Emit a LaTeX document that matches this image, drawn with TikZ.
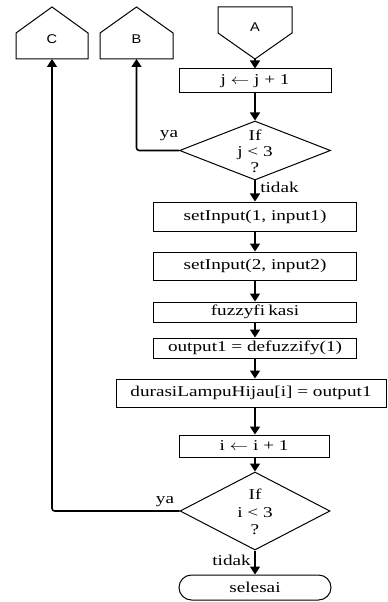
\documentclass[tikz,border=0pt]{standalone}
\usepackage{fontspec}
\usepackage{graphicx}
\setmainfont{Liberation Serif}
\newfontfamily\connfont{Liberation Sans}
\usetikzlibrary{shapes.geometric,shapes.misc,arrows.meta}
% widened serif text used throughout the chart
\newcommand{\stretchtext}[1]{\scalebox{1.28}[1]{#1}}
\begin{document}
\begin{tikzpicture}[x=0.75pt,y=-0.75pt,
  font=\fontsize{11.25}{13}\selectfont,
  box/.style={draw, line width=0.75pt, inner sep=0pt},
  decision/.style={draw, diamond, line width=0.75pt, inner sep=0pt},
  terminal/.style={draw, rounded rectangle, line width=0.75pt, inner sep=0pt},
  connector/.style={draw, line width=0.75pt, line join=miter},
  flow/.style={line width=1.2pt, -{Triangle[length=6pt,width=7.5pt]}},
  lbl/.style={inner sep=0pt}]
\useasboundingbox (0,0) rectangle (388,602);

% off-page connectors
\draw[connector] (218,7) -- (292,7) -- (292,33) -- (255,59) -- (218,33) -- cycle;
\node[lbl, font=\connfont\fontsize{9.5}{11}\selectfont] (A) at (255,27) {\scalebox{1.15}[1]{A}};
\coordinate (Atip) at (255,59);

\draw[connector] (100,59) -- (100,33) -- (136.5,7) -- (173,33) -- (173,59) -- cycle;
\node[lbl, font=\connfont\fontsize{9.5}{11}\selectfont] (B) at (136.5,39) {\scalebox{1.15}[1]{B}};
\coordinate (Bbot) at (136.5,59);

\draw[connector] (16,59) -- (16,33) -- (52,7) -- (88,33) -- (88,59) -- cycle;
\node[lbl, font=\connfont\fontsize{9.5}{11}\selectfont] (C) at (52,39) {\scalebox{1.15}[1]{C}};
\coordinate (Cbot) at (52,59);

% process steps
\node[box, minimum width=114pt, minimum height=18pt] (jinc) at (255,81)
  {\stretchtext{j $\leftarrow$ j + 1}};
\node[decision, minimum width=113.25pt, minimum height=44.25pt] (dec1) at (255,150.5) {};
\node[lbl, align=center, font=\fontsize{11.25}{12}\selectfont] (q1) at (255,151)
  {\stretchtext{If}\\ \stretchtext{j < 3}\\ \stretchtext{?}};

\node[box, minimum width=152.25pt, minimum height=21.75pt] (in1) at (255,216.5)
  {\stretchtext{setInput(1, input1)}};
\node[box, minimum width=152.25pt, minimum height=21pt] (in2) at (255,266)
  {\stretchtext{setInput(2, input2)}};
\node[box, minimum width=152.25pt, minimum height=15pt] (fuzzy) at (255,312)
  {\stretchtext{fuzzyfi\,kasi}};
\node[box, minimum width=152.25pt, minimum height=15pt] (out) at (255,348)
  {\stretchtext{output1 = defuzzify(1)}};
\node[box, minimum width=202.5pt, minimum height=21pt] (dur) at (251,393)
  {\stretchtext{durasiLampuHijau[i] = output1}};
\node[box, minimum width=112.5pt, minimum height=16.5pt] (iinc) at (254,446)
  {\stretchtext{i $\leftarrow$ i + 1}};
\node[decision, minimum width=112.5pt, minimum height=58.5pt] (dec2) at (255,511) {};
\node[lbl, align=center, font=\fontsize{11.25}{13}\selectfont] (q2) at (255,512)
  {\stretchtext{If}\\ \stretchtext{i < 3}\\ \stretchtext{?}};
\node[terminal, minimum width=114pt, minimum height=18.75pt] (stop) at (255,587.5)
  {\stretchtext{selesai}};

% branch labels
\node[lbl] (ya1) at (169,136) {\stretchtext{ya}};
\node[lbl, anchor=west] (tidak1) at (260,187) {\stretchtext{tidak}};
\node[lbl] (ya2) at (165,502) {\stretchtext{ya}};
\node[lbl, anchor=east] (tidak2) at (251,560) {\stretchtext{tidak}};

% connectors
\draw[flow] (Atip) -- (jinc.north);
\draw[flow] (jinc.south) -- (dec1.north);
\draw[flow] (dec1.south) -- (in1.north);
\draw[flow] (in1.south) -- (in2.north);
\draw[flow] (in2.south) -- (fuzzy.north);
\draw[flow] (fuzzy.south) -- (out.north);
\draw[flow] (out.south) -- (out.south |- dur.north);
\draw[flow] (dur.south -| dec2.north) -- (dec2.north |- iinc.north);
\draw[flow] (dec2.north |- iinc.south) -- (dec2.north);
\draw[flow] (dec2.south) -- (stop.north);
\draw[flow, rounded corners=2pt] (dec1.west) -| (Bbot);
\draw[flow, rounded corners=2pt] (dec2.west) -| (Cbot);
\end{tikzpicture}
\end{document}
